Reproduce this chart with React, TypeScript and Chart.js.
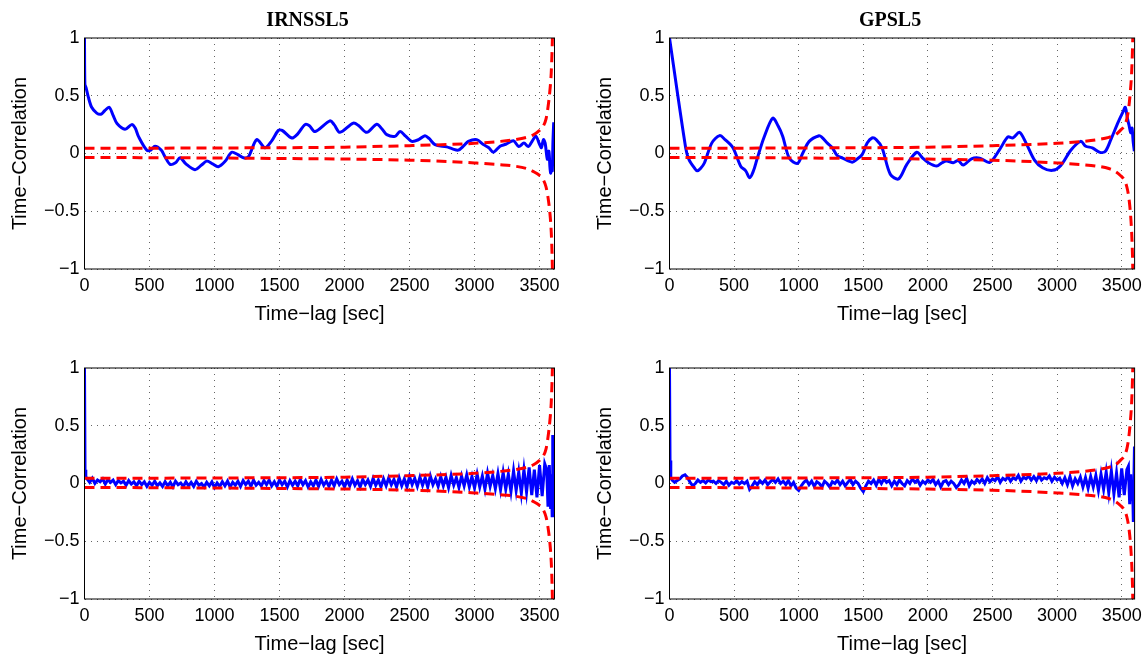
import React, { useEffect, useRef } from 'react';
import { Chart, registerables } from 'chart.js';

Chart.register(...registerables);

// ---------- tick labels / texts ----------
const xTickValues = [0, 500, 1000, 1500, 2000, 2500, 3000, 3500];
const xTickLabels = ['0', '500', '1000', '1500', '2000', '2500', '3000', '3500'];
const yTickValues = [-1, -0.5, 0, 0.5, 1];
const yTickLabels = ['\u22121', '\u22120.5', '0', '0.5', '1'];
const panelTitles = ['IRNSSL5', 'GPSL5'];
const xAxisLabel = 'Time\u2212lag [sec]';
const yAxisLabel = 'Time\u2212Correlation';

// ---------- top-left: IRNSSL5 ----------
const irnssTopLags = [0, 3, 12, 29, 55, 94, 126, 155, 190, 220, 250, 312, 363, 390, 414, 478, 510, 542, 590, 620,
  658, 700, 735, 780, 850, 900, 940, 985, 1029, 1080, 1132, 1180, 1222, 1260, 1325, 1388, 1440, 1491, 1520, 1594,
  1640, 1696, 1730, 1773, 1888, 1920, 1965, 2068, 2110, 2171, 2248, 2290, 2325, 2388, 2427, 2470, 2517, 2570, 2619, 2650,
  2696, 2786, 2830, 2875, 2920, 2952, 3017, 3068, 3110, 3145, 3196, 3240, 3299, 3340, 3380, 3414, 3440, 3471, 3500, 3514,
  3530, 3543, 3560, 3572, 3580, 3586, 3592, 3598, 3603, 3609];
const irnssTopCorr = [1, 0.6, 0.57, 0.49, 0.4, 0.35, 0.34, 0.37, 0.4, 0.33, 0.26, 0.21, 0.25, 0.22, 0.15, 0.03, 0.03, 0.063, 0.03, -0.03,
  -0.094, -0.08, -0.037, -0.09, -0.14, -0.1, -0.066, -0.09, -0.114, -0.07, 0.011, -0.01, -0.037, -0.03, 0.12, 0.049, 0.11, 0.2, 0.2, 0.134,
  0.17, 0.25, 0.24, 0.19, 0.283, 0.25, 0.183, 0.263, 0.24, 0.183, 0.254, 0.21, 0.163, 0.148, 0.19, 0.15, 0.105, 0.12, 0.154, 0.13,
  0.077, 0.057, 0.04, 0.029, 0.07, 0.105, 0.12, 0.077, 0.05, 0.011, 0.063, 0.08, 0.11, 0.06, 0.09, 0.06, 0.1, 0.15, 0.08, 0.05,
  0.12, 0.09, -0.05, 0.02, -0.12, -0.17, -0.08, -0.15, 0.1, 0.27];

// ---------- top-right: GPSL5 ----------
const gpsTopLags = [0, 125, 150, 196, 215, 240, 271, 327, 388, 430, 491, 551, 590, 621, 650, 677, 732, 799, 840, 876,
  927, 991, 1030, 1081, 1158, 1180, 1222, 1260, 1298, 1340, 1414, 1450, 1491, 1530, 1568, 1600, 1645, 1709, 1773, 1837,
  1914, 1960, 2004, 2068, 2110, 2145, 2196, 2235, 2273, 2337, 2401, 2478, 2555, 2619, 2658, 2709, 2760, 2825, 2888, 2965,
  3029, 3106, 3183, 3222, 3273, 3332, 3374, 3416, 3472, 3510, 3528, 3545, 3556, 3570, 3580, 3589, 3598];
const gpsTopCorr = [1, 0.05, -0.05, -0.13, -0.15, -0.13, -0.08, 0.09, 0.155, 0.12, 0.05, -0.11, -0.15, -0.21, -0.15, -0.05, 0.14, 0.306, 0.24, 0.15,
  -0.04, -0.086, 0.0, 0.105, 0.154, 0.14, 0.09, 0.05, -0.017, -0.04, -0.075, -0.05, -0.01, 0.09, 0.134, 0.12, 0.05, -0.18, -0.22, -0.094,
  0.011, -0.04, -0.08, -0.109, -0.08, -0.066, -0.08, -0.06, -0.1, -0.046, -0.04, -0.077, 0.034, 0.143, 0.135, 0.183, 0.09, -0.057, -0.123, -0.146,
  -0.103, 0.028, 0.105, 0.063, 0.049, 0.01, 0.02, 0.12, 0.27, 0.36, 0.4, 0.3, 0.25, 0.18, 0.22, 0.1, 0.02];

// ---------- bottom panels: shared lag grid ----------
const noiseGridLags = [
  20, 40, 60, 80, 100, 120, 140, 160, 180, 200,
  220, 240, 260, 280, 300, 320, 340, 360, 380, 400,
  420, 440, 460, 480, 500, 520, 540, 560, 580, 600,
  620, 640, 660, 680, 700, 720, 740, 760, 780, 800,
  820, 840, 860, 880, 900, 920, 940, 960, 980, 1000,
  1020, 1040, 1060, 1080, 1100, 1120, 1140, 1160, 1180, 1200,
  1220, 1240, 1260, 1280, 1300, 1320, 1340, 1360, 1380, 1400,
  1420, 1440, 1460, 1480, 1500, 1520, 1540, 1560, 1580, 1600,
  1620, 1640, 1660, 1680, 1700, 1720, 1740, 1760, 1780, 1800,
  1820, 1840, 1860, 1880, 1900, 1920, 1940, 1960, 1980, 2000,
  2020, 2040, 2060, 2080, 2100, 2120, 2140, 2160, 2180, 2200,
  2220, 2240, 2260, 2280, 2300, 2320, 2340, 2360, 2380, 2400,
  2420, 2440, 2460, 2480, 2500, 2520, 2540, 2560, 2580, 2600,
  2620, 2640, 2660, 2680, 2700, 2720, 2740, 2760, 2780, 2800,
  2820, 2840, 2860, 2880, 2900, 2920, 2940, 2960, 2980, 3000,
  3020, 3040, 3060, 3080, 3100, 3120, 3140, 3160, 3180, 3200,
  3220, 3240, 3260, 3280, 3300, 3320, 3340, 3360, 3380, 3400,
  3420, 3440, 3460, 3480, 3500, 3520, 3540];

// bottom-left: IRNSSL5 (second row)
const irnssBottomHeadLags = [0, 4, 10];
const irnssBottomHeadCorr = [1, 0.12, 0.06];
const irnssBottomCorr = [
  0.04, 0.01, 0.045, 0.0, 0.03, 0.015, 0.04, -0.005, 0.035, 0.01,
  0.03, -0.01, 0.025, 0.005, 0.02, -0.015, 0.025, -0.005, 0.015, -0.02,
  0.02, -0.01, 0.015, -0.025, 0.01, -0.015, 0.02, -0.02, 0.005, -0.025,
  0.015, -0.02, 0.01, -0.03, 0.02, -0.01, 0.005, -0.025, 0.015, -0.02,
  0.01, -0.025, 0.02, -0.015, 0.0, -0.03, 0.01, -0.02, 0.015, -0.035,
  0.005, -0.025, 0.015, -0.02, 0.02, -0.03, 0.01, -0.015, 0.02, -0.025,
  0.025, -0.01, 0.02, -0.025, 0.03, -0.015, 0.01, -0.02, 0.025, -0.01,
  0.03, -0.02, 0.015, -0.025, 0.03, -0.01, 0.02, -0.03, 0.025, -0.015,
  0.02, -0.02, 0.035, -0.01, 0.025, -0.03, 0.015, -0.02, 0.03, -0.025,
  0.035, -0.015, 0.02, -0.025, 0.03, -0.02, 0.04, -0.01, 0.02, -0.03,
  0.03, -0.02, 0.04, -0.015, 0.025, -0.03, 0.035, -0.01, 0.03, -0.025,
  0.045, -0.015, 0.03, -0.03, 0.04, -0.02, 0.05, -0.01, 0.035, -0.03,
  0.05, -0.02, 0.04, -0.03, 0.06, -0.01, 0.045, -0.025, 0.055, -0.015,
  0.05, -0.03, 0.065, -0.01, 0.04, -0.025, 0.06, -0.02, 0.055, -0.035,
  0.07, -0.015, 0.05, -0.035, 0.065, -0.02, 0.075, -0.03, 0.06, -0.04,
  0.08, -0.03, 0.065, -0.05, 0.09, -0.025, 0.07, -0.045, 0.085, -0.055,
  0.095, -0.05, 0.08, -0.07, 0.11, -0.06, 0.1, -0.085, 0.12, -0.075,
  0.14, -0.1, 0.12, -0.12, 0.16, -0.11, 0.17];
const irnssBottomTailLags = [3555, 3565, 3575, 3585, 3592, 3597, 3600, 3603];
const irnssBottomTailCorr = [0.12, -0.2, 0.16, -0.22, 0.08, -0.28, 0.0, 0.42];

// bottom-right: GPSL5 (second row)
const gpsBottomHeadLags = [0, 4, 10];
const gpsBottomHeadCorr = [1, 0.2, 0.05];
const gpsBottomCorr = [
  0.03, 0.01, 0.025, 0.04, 0.065, 0.075, 0.05, 0.01, -0.02, 0.0,
  0.03, 0.01, 0.025, 0.005, 0.03, 0.015, 0.02, 0.0, 0.025, 0.01,
  -0.01, 0.02, -0.015, 0.01, 0.0, 0.025, -0.005, 0.015, 0.0, 0.02,
  -0.05, -0.02, 0.015, -0.01, 0.025, 0.0, 0.03, -0.01, 0.015, 0.035,
  0.01, 0.04, 0.0, 0.02, -0.01, 0.025, -0.02, 0.01, -0.04, -0.06,
  -0.02, 0.01, 0.03, -0.01, 0.02, -0.025, 0.015, 0.0, -0.03, 0.02,
  0.0, -0.03, 0.015, 0.0, 0.03, -0.01, 0.02, -0.02, 0.01, 0.035,
  -0.01, 0.02, 0.0, -0.04, -0.07, -0.02, 0.02, 0.0, 0.03, -0.015,
  0.035, 0.0, 0.04, 0.01, 0.025, -0.02, 0.02, -0.01, 0.03, 0.0,
  -0.02, 0.025, 0.0, 0.04, 0.01, 0.03, -0.015, 0.02, 0.0, 0.03,
  0.01, 0.035, -0.01, 0.02, -0.03, 0.015, 0.025, -0.01, 0.02, 0.0,
  -0.035, -0.01, 0.03, 0.0, 0.045, -0.02, 0.02, 0.0, 0.035, 0.01,
  0.04, 0.0, 0.05, 0.015, 0.04, 0.025, 0.06, 0.01, 0.045, 0.03,
  0.06, 0.02, 0.05, 0.035, 0.07, 0.02, 0.055, 0.04, 0.065, 0.03,
  0.06, 0.025, 0.07, 0.03, 0.05, 0.04, 0.065, 0.02, 0.055, 0.03,
  0.045, 0.0, 0.05, -0.01, 0.06, -0.02, 0.04, 0.0, 0.055, -0.03,
  0.05, -0.04, 0.06, -0.03, 0.07, -0.06, 0.08, -0.05, 0.1, -0.08,
  0.11, -0.09, 0.09, -0.12, 0.13, -0.1, 0.12];
const gpsBottomTailLags = [3552, 3562, 3570, 3578, 3584, 3590, 3595, 3599];
const gpsBottomTailCorr = [0.15, -0.18, 0.08, -0.15, 0.02, -0.32, 0.05, 0.32];

// ---------- confidence bounds (red dashed) ----------
const irnssBoundLags = [0, 500, 1000, 1500, 2000, 2500, 2800, 3000, 3200, 3300, 3400, 3450, 3500, 3530, 3550, 3565, 3580, 3590, 3596, 3600];
const gpsBoundLags = [0, 500, 1000, 1500, 2000, 2500, 2800, 3000, 3200, 3300, 3400, 3450, 3490, 3520, 3540, 3555, 3568, 3577, 3583, 3587];
const upperBound = [0.045, 0.046, 0.048, 0.05, 0.055, 0.068, 0.078, 0.088, 0.105, 0.118, 0.14, 0.16, 0.2, 0.24, 0.3, 0.4, 0.55, 0.7, 0.88, 1.05];
const lowerBound = [-0.035, -0.036, -0.039, -0.043, -0.048, -0.058, -0.07, -0.082, -0.097, -0.108, -0.13, -0.155, -0.19, -0.23, -0.29, -0.38, -0.52, -0.68, -0.86, -1.05];

const SANS = '"Liberation Sans", Arial, Helvetica, sans-serif';
const SERIF = '"Liberation Serif", "Times New Roman", serif';

type PanelSpec = {
  left: number;
  top: number;
  title?: string;
  lags: number[];
  corr: number[];
  boundLags: number[];
  xMax: number;
  yAxisWidth: number;
  padRight: number;
  yTitlePad: number;
  smooth: boolean;
};

const toPoints = (xs: number[], ys: number[]) => xs.map((x, i) => ({ x, y: ys[i] }));

const panels: PanelSpec[] = [
  { left: 0, top: 0, title: panelTitles[0], lags: irnssTopLags, corr: irnssTopCorr, boundLags: irnssBoundLags, xMax: 3615, yAxisWidth: 84.5, padRight: 19.5, yTitlePad: 8.5, smooth: true },
  { left: 574, top: 0, title: panelTitles[1], lags: gpsTopLags, corr: gpsTopCorr, boundLags: gpsBoundLags, xMax: 3600, yAxisWidth: 95.5, padRight: 10.5, yTitlePad: 19.5, smooth: true },
  { left: 0, top: 330, lags: [...irnssBottomHeadLags, ...noiseGridLags, ...irnssBottomTailLags], corr: [...irnssBottomHeadCorr, ...irnssBottomCorr, ...irnssBottomTailCorr], boundLags: irnssBoundLags, xMax: 3615, yAxisWidth: 84.5, padRight: 19.5, yTitlePad: 8.5, smooth: false },
  { left: 574, top: 330, lags: [...gpsBottomHeadLags, ...noiseGridLags, ...gpsBottomTailLags], corr: [...gpsBottomHeadCorr, ...gpsBottomCorr, ...gpsBottomTailCorr], boundLags: gpsBoundLags, xMax: 3600, yAxisWidth: 95.5, padRight: 10.5, yTitlePad: 19.5, smooth: false },
];

function Panel({ spec }: { spec: PanelSpec }) {
  const ref = useRef<HTMLCanvasElement>(null);
  useEffect(() => {
    const canvas = ref.current;
    if (!canvas) return;
    const titlePlugin = {
      id: 'panelTitle',
      afterDraw(chart: any) {
        if (!spec.title) return;
        const { ctx, chartArea } = chart;
        ctx.save();
        ctx.font = `bold 20px ${SERIF}`;
        ctx.fillStyle = '#000';
        ctx.textAlign = 'center';
        ctx.textBaseline = 'middle';
        ctx.fillText(spec.title, (chartArea.left + chartArea.right) / 2 - 12, 21);
        ctx.restore();
      },
    };
    const framePlugin = {
      id: 'frameBox',
      afterDraw(chart: any) {
        const { ctx, chartArea: a } = chart;
        ctx.save();
        ctx.strokeStyle = '#000';
        ctx.lineWidth = 1;
        ctx.setLineDash([]);
        ctx.strokeRect(a.left, a.top, a.right - a.left, a.bottom - a.top);
        ctx.restore();
      },
    };
    const gridColor = 'rgba(0,0,0,0.6)';
    const redDash = [10, 6];
    const chart = new Chart(canvas, {
      type: 'line',
      data: {
        datasets: [
          {
            label: 'upper',
            data: toPoints(spec.boundLags, upperBound),
            borderColor: '#ff0000',
            borderWidth: 3,
            borderDash: redDash,
            pointRadius: 0,
            cubicInterpolationMode: 'monotone',
            fill: false,
          },
          {
            label: 'lower',
            data: toPoints(spec.boundLags, lowerBound),
            borderColor: '#ff0000',
            borderWidth: 3,
            borderDash: redDash,
            pointRadius: 0,
            cubicInterpolationMode: 'monotone',
            fill: false,
          },
          {
            label: 'corr',
            data: toPoints(spec.lags, spec.corr),
            borderColor: '#0000ff',
            borderWidth: 3,
            pointRadius: 0,
            tension: spec.smooth ? 0.3 : 0,
            fill: false,
          },
        ],
      } as any,
      options: {
        animation: false,
        responsive: false,
        devicePixelRatio: 1,
        events: [],
        layout: { padding: { top: 38, right: spec.padRight, left: 0, bottom: 0 } },
        plugins: {
          legend: { display: false },
          tooltip: { enabled: false },
          title: { display: false },
        },
        scales: {
          x: {
            type: 'linear',
            min: 0,
            max: spec.xMax,
            afterBuildTicks: (s: any) => {
              s.ticks = xTickValues.map((v) => ({ value: v }));
            },
            afterFit: (s: any) => {
              s.height = 61;
            },
            ticks: {
              callback: (_v: any, i: number) => xTickLabels[i],
              font: { family: SANS, size: 18 },
              color: '#000',
              padding: 6,
              maxRotation: 0,
              autoSkip: false,
            },
            grid: { color: gridColor, lineWidth: 1, drawTicks: false },
            border: { display: false, dash: [1, 5] },
            title: {
              display: true,
              text: xAxisLabel,
              font: { family: SANS, size: 20 },
              color: '#000',
              padding: { top: 0, bottom: 4 },
            },
          },
          y: {
            type: 'linear',
            min: -1,
            max: 1,
            afterBuildTicks: (s: any) => {
              s.ticks = yTickValues.map((v) => ({ value: v }));
            },
            afterFit: (s: any) => {
              s.width = spec.yAxisWidth;
            },
            ticks: {
              callback: (_v: any, i: number) => yTickLabels[i],
              font: { family: SANS, size: 18 },
              color: '#000',
              padding: 5,
              autoSkip: false,
            },
            grid: { color: gridColor, lineWidth: 1, drawTicks: false },
            border: { display: false, dash: [1, 5] },
            title: {
              display: true,
              text: yAxisLabel,
              font: { family: SANS, size: 20 },
              color: '#000',
              padding: { top: spec.yTitlePad, bottom: 0 },
            },
          },
        },
      } as any,
      plugins: [titlePlugin, framePlugin],
    });
    return () => chart.destroy();
  }, [spec]);
  return (
    <canvas
      ref={ref}
      width={574}
      height={330}
      style={{ position: 'absolute', left: spec.left, top: spec.top, width: 574, height: 330 }}
    />
  );
}

export default function App() {
  return (
    <div
      style={{
        position: 'fixed',
        left: 0,
        top: 0,
        width: 1148,
        height: 660,
        background: '#ffffff',
        overflow: 'hidden',
      }}
    >
      {panels.map((p, i) => (
        <Panel key={i} spec={p} />
      ))}
    </div>
  );
}
